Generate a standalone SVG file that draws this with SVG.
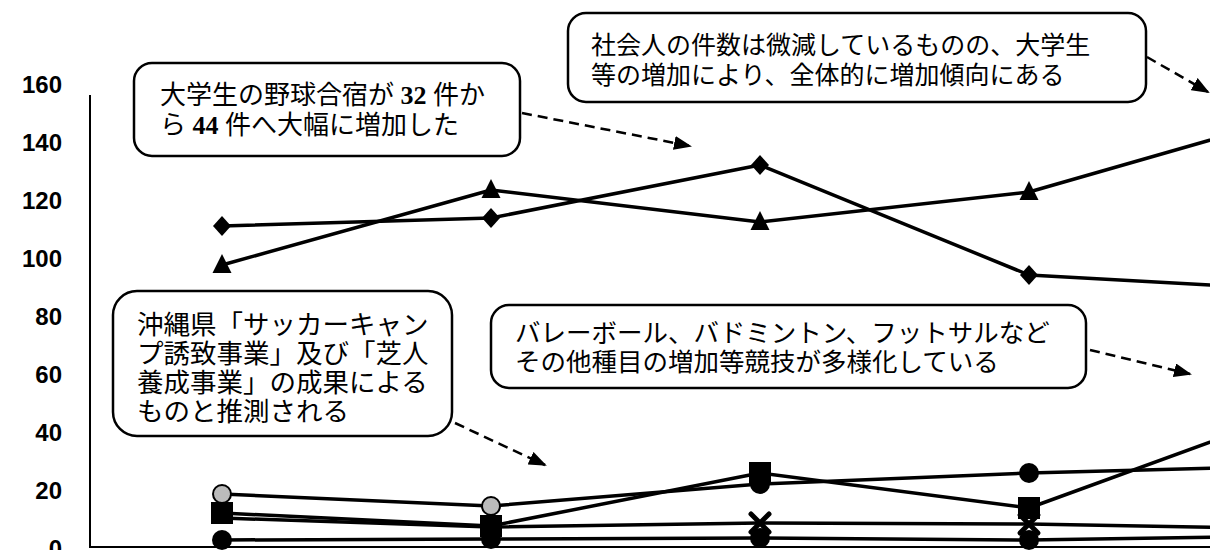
<svg xmlns="http://www.w3.org/2000/svg" width="1210" height="550" viewBox="0 0 1210 550">
<style>
.ax{font-family:"Liberation Sans",Arial,sans-serif;font-size:24px;font-weight:bold;fill:#000;text-anchor:end}
.cj{font-family:"Noto Sans CJK JP","Noto Sans CJK SC",sans-serif;font-size:25px;fill:#000}
.c3{font-size:26.5px}
.c4{font-size:25.5px}
.sr{font-family:"Liberation Serif","Noto Sans CJK JP",serif;font-size:26px;fill:#000}
.box{fill:#fff;stroke:#000;stroke-width:2.5}
.ser{fill:none;stroke:#000;stroke-width:3.5;stroke-linejoin:round}
.dash{fill:none;stroke:#000;stroke-width:2.5;stroke-dasharray:10 6}
.axis{stroke:#000;stroke-width:2;fill:none}
</style>
<defs>
<path id="dia" d="M0,-10 L9,0 L0,10 L-9,0 Z"/>
<path id="tri" d="M0,-11 L9.5,8 L-9.5,8 Z"/>
<rect id="sq" x="-11" y="-11" width="22" height="22"/>
<circle id="cir" r="10"/>
<g id="xm"><path d="M-9,-9 L9,9 M9,-9 L-9,9" stroke="#000" stroke-width="5" stroke-linecap="round"/></g>
<marker id="ah" markerWidth="18" markerHeight="14" refX="16" refY="7" orient="auto" markerUnits="userSpaceOnUse">
<path d="M0,0 L18,7 L0,14 Z" fill="#000"/>
</marker>
</defs>
<rect width="1210" height="550" fill="#fff"/>
<g id="axis-labels">
<text class="ax" x="62" y="93">160</text>
<text class="ax" x="62" y="151">140</text>
<text class="ax" x="62" y="209">120</text>
<text class="ax" x="62" y="267">100</text>
<text class="ax" x="62" y="325">80</text>
<text class="ax" x="62" y="383">60</text>
<text class="ax" x="62" y="441">40</text>
<text class="ax" x="62" y="499">20</text>
<text class="ax" x="62" y="557">0</text>
</g>
<g id="axes">
<path class="axis" d="M90,95 L90,547 L1210,547"/>
</g>
<g id="series-lines">
<polyline class="ser" points="222,226 491,218 760,165 1029,275 1298,290"/>
<polyline class="ser" points="222,265 491,190 760,222 1029,192 1298,115"/>
<polyline class="ser" points="222,494 491,506 760,484 1029,473 1298,466"/>
<polyline class="ser" points="222,513 491,526 760,473 1029,508 1298,410"/>
<polyline class="ser" points="222,518 491,527 760,523 1029,524 1298,529"/>
<polyline class="ser" points="222,540 491,539 760,538 1029,540 1298,536"/>
</g>
<g id="series-markers">
<use href="#dia" x="222" y="226"/><use href="#dia" x="491" y="218"/><use href="#dia" x="760" y="165"/><use href="#dia" x="1029" y="275"/>
<use href="#tri" x="222" y="265"/><use href="#tri" x="491" y="190"/><use href="#tri" x="760" y="222"/><use href="#tri" x="1029" y="192"/>
<use href="#cir" x="222" y="540"/><use href="#cir" x="491" y="539"/><use href="#cir" x="760" y="538"/><use href="#cir" x="1029" y="540"/>
<use href="#xm" x="760" y="523"/><use href="#xm" x="1029" y="524"/>
<use href="#cir" x="760" y="484"/>
<use href="#sq" x="222" y="513"/><use href="#sq" x="491" y="526"/><use href="#sq" x="760" y="473"/><use href="#sq" x="1029" y="508"/>
<circle cx="222" cy="494" r="9" fill="#bbb" stroke="#000" stroke-width="2"/>
<circle cx="491" cy="506" r="9" fill="#bbb" stroke="#000" stroke-width="2"/>
<use href="#cir" x="1029" y="473"/>
</g>
<g id="connectors">
<path class="dash" d="M522,113 L690,146" marker-end="url(#ah)"/>
<path class="dash" d="M1147,57 L1208,92" marker-end="url(#ah)"/>
<path class="dash" d="M455,423 L545,465" marker-end="url(#ah)"/>
<path class="dash" d="M1090,350 L1190,374" marker-end="url(#ah)"/>
</g>
<g id="callout-1">
<rect class="box" x="134" y="63" width="386" height="93" rx="18"/>
<text class="sr" x="160" y="104">大学生の野球合宿が <tspan font-weight="bold">32</tspan> 件か</text>
<text class="sr" x="160" y="134">ら <tspan font-weight="bold">44</tspan> 件へ大幅に増加した</text>
</g>
<g id="callout-2">
<rect class="box" x="568" y="13" width="578" height="89" rx="18"/>
<text class="cj" x="591" y="54">社会人の件数は微減しているものの、大学生</text>
<text class="cj" x="591" y="84">等の増加により、全体的に増加傾向にある</text>
</g>
<g id="callout-3">
<rect class="box" x="113" y="291" width="339" height="145" rx="24"/>
<text class="cj c3" x="137" y="334">沖縄県「サッカーキャン</text>
<text class="cj c3" x="137" y="363">プ誘致事業」及び「芝人</text>
<text class="cj c3" x="137" y="392">養成事業」の成果による</text>
<text class="cj c3" x="137" y="421">ものと推測される</text>
</g>
<g id="callout-4">
<rect class="box" x="491" y="305" width="595" height="83" rx="18"/>
<text class="cj c4" x="515" y="342">バレーボール、バドミントン、フットサルなど</text>
<text class="cj c4" x="515" y="371">その他種目の増加等競技が多様化している</text>
</g>
</svg>
